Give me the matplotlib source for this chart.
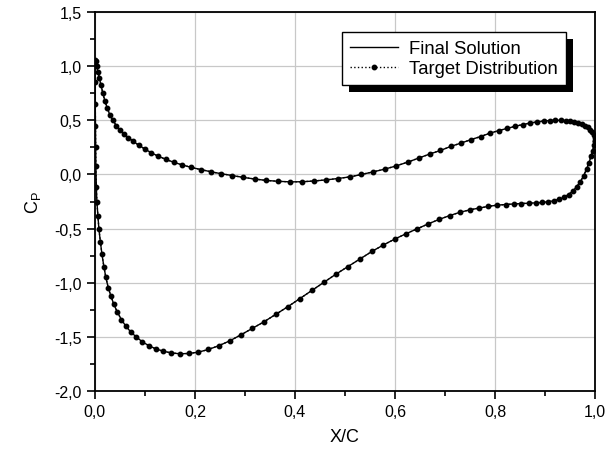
import numpy as np
import matplotlib
matplotlib.use("Agg")
import matplotlib.pyplot as plt
from matplotlib.ticker import MultipleLocator, FuncFormatter
from matplotlib.patches import Rectangle
from matplotlib.transforms import IdentityTransform

plt.rcParams["font.family"] = ["Liberation Sans", "DejaVu Sans"]
plt.rcParams["mathtext.fontset"] = "custom"
plt.rcParams["mathtext.rm"] = "Liberation Sans"
plt.rcParams["mathtext.it"] = "Liberation Sans"

# upper surface, leading edge -> trailing edge
X_UPPER = [0.0, 0.001, 0.002, 0.004, 0.006, 0.009, 0.012, 0.016, 0.02, 0.025,
           0.03, 0.036, 0.043, 0.05, 0.058, 0.067, 0.077, 0.088, 0.1, 0.113,
           0.127, 0.142, 0.158, 0.175, 0.193, 0.212, 0.232, 0.253, 0.275, 0.297,
           0.32, 0.343, 0.367, 0.39, 0.414, 0.438, 0.462, 0.486, 0.51, 0.533,
           0.557, 0.58, 0.603, 0.626, 0.648, 0.67, 0.691, 0.712, 0.732, 0.752,
           0.771, 0.789, 0.807, 0.824, 0.84, 0.855, 0.87, 0.884, 0.897, 0.909,
           0.92, 0.931, 0.941, 0.95, 0.958, 0.966, 0.973, 0.979, 0.985, 0.99,
           0.994, 0.997, 0.999, 1.0]
CP_UPPER = [1.00, 1.06, 1.05, 1.0, 0.95, 0.89, 0.83, 0.75, 0.68, 0.61,
            0.55, 0.50, 0.45, 0.41, 0.375, 0.34, 0.305, 0.27, 0.235, 0.20,
            0.168, 0.14, 0.112, 0.088, 0.065, 0.045, 0.025, 0.007, -0.01, -0.027,
            -0.042, -0.055, -0.063, -0.068, -0.067, -0.06, -0.05, -0.037, -0.022, 0.0,
            0.025, 0.05, 0.08, 0.115, 0.152, 0.19, 0.222, 0.26, 0.29, 0.322,
            0.35, 0.38, 0.405, 0.425, 0.445, 0.46, 0.475, 0.485, 0.493, 0.498,
            0.50, 0.50, 0.498, 0.494, 0.488, 0.478, 0.466, 0.452, 0.435, 0.415,
            0.39, 0.36, 0.335, 0.31]

# lower surface, leading edge -> trailing edge
X_LOWER = [0.0, 0.0003, 0.0006, 0.001, 0.0015, 0.002, 0.003, 0.004, 0.006, 0.008,
           0.011, 0.014, 0.018, 0.022, 0.027, 0.032, 0.038, 0.045, 0.053, 0.062,
           0.072, 0.083, 0.095, 0.108, 0.122, 0.137, 0.153, 0.17, 0.188, 0.207,
           0.227, 0.248, 0.27, 0.292, 0.315, 0.338, 0.362, 0.386, 0.41, 0.434,
           0.458, 0.482, 0.506, 0.53, 0.554, 0.577, 0.6, 0.623, 0.645, 0.667,
           0.688, 0.709, 0.729, 0.749, 0.768, 0.786, 0.804, 0.821, 0.837, 0.852,
           0.867, 0.881, 0.894, 0.906, 0.917, 0.928, 0.938, 0.947, 0.955, 0.963,
           0.97, 0.977, 0.983, 0.988, 0.992, 0.995, 0.998, 1.0]
CP_LOWER = [1.0, 0.85, 0.65, 0.45, 0.25, 0.08, -0.12, -0.25, -0.38, -0.50,
            -0.62, -0.73, -0.85, -0.95, -1.05, -1.12, -1.2, -1.27, -1.34, -1.40,
            -1.455, -1.50, -1.545, -1.58, -1.61, -1.632, -1.647, -1.655, -1.652, -1.64,
            -1.615, -1.58, -1.535, -1.48, -1.42, -1.36, -1.29, -1.22, -1.145, -1.07,
            -0.995, -0.92, -0.85, -0.78, -0.71, -0.65, -0.595, -0.545, -0.5, -0.455,
            -0.415, -0.38, -0.35, -0.327, -0.31, -0.295, -0.283, -0.277, -0.272, -0.268,
            -0.265, -0.262, -0.258, -0.252, -0.243, -0.23, -0.21, -0.185, -0.155, -0.115,
            -0.07, -0.015, 0.05, 0.11, 0.17, 0.22, 0.27, 0.31]


def comma(v, pos):
    return f"{v:.1f}".replace(".", ",")


def main():
    x = np.concatenate([X_UPPER[::-1], X_LOWER[1:]])
    cp = np.concatenate([CP_UPPER[::-1], CP_LOWER[1:]])

    fig = plt.figure(figsize=(6.16, 4.56), dpi=100)
    ax = fig.add_axes([0.154, 0.140, 0.812, 0.8315])

    ax.plot(x, cp, color="black", lw=1.0, label="Final Solution", zorder=3)
    ax.plot(x, cp, color="black", lw=1.0, ls=":", marker="o", ms=3.2,
            label="Target Distribution", zorder=4)

    ax.set_xlim(0, 1)
    ax.set_ylim(-2.0, 1.5)
    ax.xaxis.set_major_locator(MultipleLocator(0.2))
    ax.xaxis.set_minor_locator(MultipleLocator(0.1))
    ax.yaxis.set_major_locator(MultipleLocator(0.5))
    ax.yaxis.set_minor_locator(MultipleLocator(0.25))
    ax.xaxis.set_major_formatter(FuncFormatter(comma))
    ax.yaxis.set_major_formatter(FuncFormatter(comma))
    ax.tick_params(which="major", direction="out", length=6, width=1.2,
                   labelsize=11.5, colors="black")
    ax.tick_params(which="minor", direction="out", length=3.5, width=1.2)
    ax.grid(which="major", color="#c8c8c8", lw=0.9)
    ax.set_axisbelow(True)
    for sp in ax.spines.values():
        sp.set_linewidth(1.3)

    ax.set_xlabel("X/C", fontsize=13, labelpad=6)
    ax.set_ylabel(r"C$_\mathrm{P}$", fontsize=13, labelpad=8)

    leg = ax.legend(loc="upper right", bbox_to_anchor=(0.942, 0.947),
                    fontsize=13.3, handlelength=2.6, frameon=True, fancybox=False,
                    edgecolor="black", framealpha=1, borderpad=0.45,
                    labelspacing=0.15, handletextpad=0.6, borderaxespad=0)
    leg.get_frame().set_linewidth(1.0)
    leg.set_zorder(6)

    fig.canvas.draw()
    bb = leg.get_window_extent()
    shadow = Rectangle((bb.x0 + 7, bb.y0 - 7), bb.width, bb.height,
                       transform=IdentityTransform(), facecolor="black",
                       edgecolor="none", zorder=5.5)
    ax.add_artist(shadow)

    fig.savefig("out.png", dpi=100)
    plt.close(fig)


if __name__ == "__main__":
    main()
